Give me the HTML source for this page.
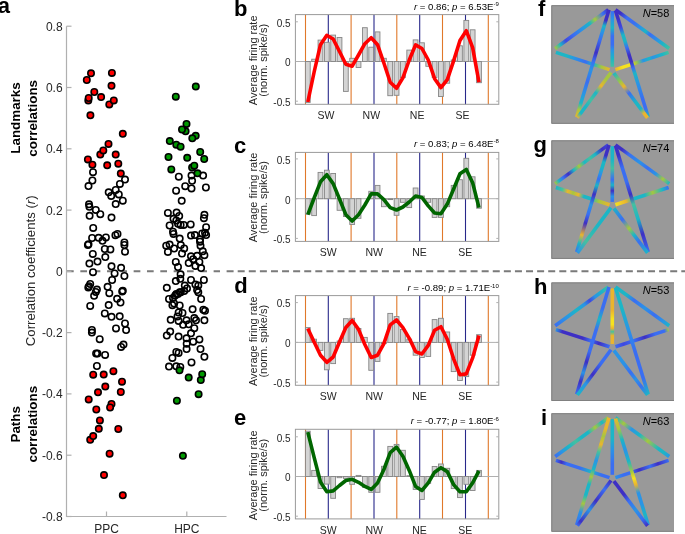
<!DOCTYPE html><html><head><meta charset="utf-8"><style>html,body{margin:0;padding:0;background:#fff;}svg{display:block;will-change:transform;}text{font-family:'Liberation Sans',sans-serif;}</style></head><body>
<svg width="685" height="534" viewBox="0 0 685 534">
<rect width="685" height="534" fill="#fff"/>
<text x="-2.3" y="13.3" style="font-weight:bold;font-size:22px" fill="#000">a</text>
<line x1="66.5" y1="271.2" x2="220" y2="271.2" stroke="#7a7a7a" stroke-width="2" stroke-dasharray="6.7 6.63" stroke-dashoffset="-0.5"/>
<line x1="226.6" y1="271.2" x2="685" y2="271.2" stroke="#7a7a7a" stroke-width="2" stroke-dasharray="7 4.09"/>
<path d="M66.5 26.2 V516.5 H226.5" fill="none" stroke="#b0b0b0" stroke-width="1.2"/>
<line x1="66.5" y1="26.2" x2="71.5" y2="26.2" stroke="#b0b0b0" stroke-width="1.2"/>
<text x="62.6" y="30.6" text-anchor="end" style="font-size:12px" fill="#262626">0.8</text>
<line x1="66.5" y1="87.5" x2="71.5" y2="87.5" stroke="#b0b0b0" stroke-width="1.2"/>
<text x="62.6" y="91.9" text-anchor="end" style="font-size:12px" fill="#262626">0.6</text>
<line x1="66.5" y1="148.8" x2="71.5" y2="148.8" stroke="#b0b0b0" stroke-width="1.2"/>
<text x="62.6" y="153.2" text-anchor="end" style="font-size:12px" fill="#262626">0.4</text>
<line x1="66.5" y1="210.1" x2="71.5" y2="210.1" stroke="#b0b0b0" stroke-width="1.2"/>
<text x="62.6" y="214.5" text-anchor="end" style="font-size:12px" fill="#262626">0.2</text>
<line x1="66.5" y1="271.4" x2="71.5" y2="271.4" stroke="#b0b0b0" stroke-width="1.2"/>
<text x="62.6" y="275.8" text-anchor="end" style="font-size:12px" fill="#262626">0</text>
<line x1="66.5" y1="332.6" x2="71.5" y2="332.6" stroke="#b0b0b0" stroke-width="1.2"/>
<text x="62.6" y="337.0" text-anchor="end" style="font-size:12px" fill="#262626">-0.2</text>
<line x1="66.5" y1="393.9" x2="71.5" y2="393.9" stroke="#b0b0b0" stroke-width="1.2"/>
<text x="62.6" y="398.3" text-anchor="end" style="font-size:12px" fill="#262626">-0.4</text>
<line x1="66.5" y1="455.2" x2="71.5" y2="455.2" stroke="#b0b0b0" stroke-width="1.2"/>
<text x="62.6" y="459.6" text-anchor="end" style="font-size:12px" fill="#262626">-0.6</text>
<line x1="66.5" y1="516.5" x2="71.5" y2="516.5" stroke="#b0b0b0" stroke-width="1.2"/>
<text x="62.6" y="520.9" text-anchor="end" style="font-size:12px" fill="#262626">-0.8</text>
<line x1="106.5" y1="516.5" x2="106.5" y2="511.5" stroke="#b0b0b0" stroke-width="1.2"/>
<text x="106.5" y="533.2" text-anchor="middle" style="font-size:12px" fill="#262626">PPC</text>
<line x1="186.8" y1="516.5" x2="186.8" y2="511.5" stroke="#b0b0b0" stroke-width="1.2"/>
<text x="186.8" y="533.2" text-anchor="middle" style="font-size:12px" fill="#262626">HPC</text>
<text transform="translate(19.7 118) rotate(-90)" text-anchor="middle" style="font-weight:bold;font-size:13.4px" fill="#000">Landmarks</text>
<text transform="translate(36.7 118.3) rotate(-90)" text-anchor="middle" style="font-weight:bold;font-size:13.4px" fill="#000">correlations</text>
<text transform="translate(19.7 424.3) rotate(-90)" text-anchor="middle" style="font-weight:bold;font-size:13.4px" fill="#000">Paths</text>
<text transform="translate(36.7 424.2) rotate(-90)" text-anchor="middle" style="font-weight:bold;font-size:13.4px" fill="#000">correlations</text>
<text transform="translate(35.0 270.8) rotate(-90)" text-anchor="middle" style="font-size:13.2px" fill="#262626">Correlation coefficients (<tspan style="font-style:italic">r</tspan>)</text>
<g fill="#fff"><circle cx="93.0" cy="172.2" r="3.5"/><circle cx="92.4" cy="180.5" r="3.5"/><circle cx="88.5" cy="186.1" r="3.5"/><circle cx="125.0" cy="179.6" r="3.5"/><circle cx="119.9" cy="183.9" r="3.5"/><circle cx="115.7" cy="190.0" r="3.5"/><circle cx="108.7" cy="192.3" r="3.5"/><circle cx="111.2" cy="195.9" r="3.5"/><circle cx="118.8" cy="194.4" r="3.5"/><circle cx="122.8" cy="200.7" r="3.5"/><circle cx="115.7" cy="204.1" r="3.5"/><circle cx="89.0" cy="204.3" r="3.5"/><circle cx="89.4" cy="206.8" r="3.5"/><circle cx="95.8" cy="209.9" r="3.5"/><circle cx="89.6" cy="215.8" r="3.5"/><circle cx="100.3" cy="214.2" r="3.5"/><circle cx="111.5" cy="217.6" r="3.5"/><circle cx="93.2" cy="227.9" r="3.5"/><circle cx="92.1" cy="238.0" r="3.5"/><circle cx="98.6" cy="237.8" r="3.5"/><circle cx="105.9" cy="237.4" r="3.5"/><circle cx="102.5" cy="240.8" r="3.5"/><circle cx="115.4" cy="235.2" r="3.5"/><circle cx="117.5" cy="234.0" r="3.5"/><circle cx="87.9" cy="245.0" r="3.5"/><circle cx="88.5" cy="244.2" r="3.5"/><circle cx="124.4" cy="242.5" r="3.5"/><circle cx="124.4" cy="245.0" r="3.5"/><circle cx="104.8" cy="249.0" r="3.5"/><circle cx="110.4" cy="249.4" r="3.5"/><circle cx="125.0" cy="251.7" r="3.5"/><circle cx="92.8" cy="253.9" r="3.5"/><circle cx="105.3" cy="257.1" r="3.5"/><circle cx="97.5" cy="261.6" r="3.5"/><circle cx="89.4" cy="263.6" r="3.5"/><circle cx="111.5" cy="266.3" r="3.5"/><circle cx="121.1" cy="267.8" r="3.5"/><circle cx="93.0" cy="272.2" r="3.5"/><circle cx="114.6" cy="273.4" r="3.5"/><circle cx="124.4" cy="276.0" r="3.5"/><circle cx="112.1" cy="280.0" r="3.5"/><circle cx="90.2" cy="284.0" r="3.5"/><circle cx="89.0" cy="286.2" r="3.5"/><circle cx="88.3" cy="287.6" r="3.5"/><circle cx="96.9" cy="289.6" r="3.5"/><circle cx="95.8" cy="291.9" r="3.5"/><circle cx="94.1" cy="295.8" r="3.5"/><circle cx="107.6" cy="286.8" r="3.5"/><circle cx="109.3" cy="293.2" r="3.5"/><circle cx="122.8" cy="290.7" r="3.5"/><circle cx="122.2" cy="291.6" r="3.5"/><circle cx="117.1" cy="298.8" r="3.5"/><circle cx="120.5" cy="302.5" r="3.5"/><circle cx="90.2" cy="305.9" r="3.5"/><circle cx="108.7" cy="305.1" r="3.5"/><circle cx="104.8" cy="313.4" r="3.5"/><circle cx="111.5" cy="316.8" r="3.5"/><circle cx="119.7" cy="316.3" r="3.5"/><circle cx="125.0" cy="323.5" r="3.5"/><circle cx="116.0" cy="328.4" r="3.5"/><circle cx="126.1" cy="330.1" r="3.5"/><circle cx="91.9" cy="330.0" r="3.5"/><circle cx="91.9" cy="332.6" r="3.5"/><circle cx="99.7" cy="339.2" r="3.5"/><circle cx="121.1" cy="346.9" r="3.5"/><circle cx="123.5" cy="344.6" r="3.5"/><circle cx="96.1" cy="353.4" r="3.5"/><circle cx="97.5" cy="353.6" r="3.5"/><circle cx="105.1" cy="354.9" r="3.5"/><circle cx="96.9" cy="366.0" r="3.5"/></g>
<g fill="none" stroke="#000" stroke-width="1.6"><circle cx="93.0" cy="172.2" r="3.2"/><circle cx="92.4" cy="180.5" r="3.2"/><circle cx="88.5" cy="186.1" r="3.2"/><circle cx="125.0" cy="179.6" r="3.2"/><circle cx="119.9" cy="183.9" r="3.2"/><circle cx="115.7" cy="190.0" r="3.2"/><circle cx="108.7" cy="192.3" r="3.2"/><circle cx="111.2" cy="195.9" r="3.2"/><circle cx="118.8" cy="194.4" r="3.2"/><circle cx="122.8" cy="200.7" r="3.2"/><circle cx="115.7" cy="204.1" r="3.2"/><circle cx="89.0" cy="204.3" r="3.2"/><circle cx="89.4" cy="206.8" r="3.2"/><circle cx="95.8" cy="209.9" r="3.2"/><circle cx="89.6" cy="215.8" r="3.2"/><circle cx="100.3" cy="214.2" r="3.2"/><circle cx="111.5" cy="217.6" r="3.2"/><circle cx="93.2" cy="227.9" r="3.2"/><circle cx="92.1" cy="238.0" r="3.2"/><circle cx="98.6" cy="237.8" r="3.2"/><circle cx="105.9" cy="237.4" r="3.2"/><circle cx="102.5" cy="240.8" r="3.2"/><circle cx="115.4" cy="235.2" r="3.2"/><circle cx="117.5" cy="234.0" r="3.2"/><circle cx="87.9" cy="245.0" r="3.2"/><circle cx="88.5" cy="244.2" r="3.2"/><circle cx="124.4" cy="242.5" r="3.2"/><circle cx="124.4" cy="245.0" r="3.2"/><circle cx="104.8" cy="249.0" r="3.2"/><circle cx="110.4" cy="249.4" r="3.2"/><circle cx="125.0" cy="251.7" r="3.2"/><circle cx="92.8" cy="253.9" r="3.2"/><circle cx="105.3" cy="257.1" r="3.2"/><circle cx="97.5" cy="261.6" r="3.2"/><circle cx="89.4" cy="263.6" r="3.2"/><circle cx="111.5" cy="266.3" r="3.2"/><circle cx="121.1" cy="267.8" r="3.2"/><circle cx="93.0" cy="272.2" r="3.2"/><circle cx="114.6" cy="273.4" r="3.2"/><circle cx="124.4" cy="276.0" r="3.2"/><circle cx="112.1" cy="280.0" r="3.2"/><circle cx="90.2" cy="284.0" r="3.2"/><circle cx="89.0" cy="286.2" r="3.2"/><circle cx="88.3" cy="287.6" r="3.2"/><circle cx="96.9" cy="289.6" r="3.2"/><circle cx="95.8" cy="291.9" r="3.2"/><circle cx="94.1" cy="295.8" r="3.2"/><circle cx="107.6" cy="286.8" r="3.2"/><circle cx="109.3" cy="293.2" r="3.2"/><circle cx="122.8" cy="290.7" r="3.2"/><circle cx="122.2" cy="291.6" r="3.2"/><circle cx="117.1" cy="298.8" r="3.2"/><circle cx="120.5" cy="302.5" r="3.2"/><circle cx="90.2" cy="305.9" r="3.2"/><circle cx="108.7" cy="305.1" r="3.2"/><circle cx="104.8" cy="313.4" r="3.2"/><circle cx="111.5" cy="316.8" r="3.2"/><circle cx="119.7" cy="316.3" r="3.2"/><circle cx="125.0" cy="323.5" r="3.2"/><circle cx="116.0" cy="328.4" r="3.2"/><circle cx="126.1" cy="330.1" r="3.2"/><circle cx="91.9" cy="330.0" r="3.2"/><circle cx="91.9" cy="332.6" r="3.2"/><circle cx="99.7" cy="339.2" r="3.2"/><circle cx="121.1" cy="346.9" r="3.2"/><circle cx="123.5" cy="344.6" r="3.2"/><circle cx="96.1" cy="353.4" r="3.2"/><circle cx="97.5" cy="353.6" r="3.2"/><circle cx="105.1" cy="354.9" r="3.2"/><circle cx="96.9" cy="366.0" r="3.2"/></g>
<g fill="#fff"><circle cx="178.8" cy="176.7" r="3.5"/><circle cx="191.5" cy="175.6" r="3.5"/><circle cx="203.1" cy="175.6" r="3.5"/><circle cx="192.1" cy="180.8" r="3.5"/><circle cx="185.2" cy="186.2" r="3.5"/><circle cx="205.9" cy="187.5" r="3.5"/><circle cx="191.5" cy="188.4" r="3.5"/><circle cx="176.1" cy="190.7" r="3.5"/><circle cx="181.7" cy="200.8" r="3.5"/><circle cx="167.9" cy="212.9" r="3.5"/><circle cx="176.6" cy="212.6" r="3.5"/><circle cx="179.2" cy="216.0" r="3.5"/><circle cx="173.5" cy="218.8" r="3.5"/><circle cx="176.3" cy="220.4" r="3.5"/><circle cx="204.4" cy="214.8" r="3.5"/><circle cx="203.9" cy="218.2" r="3.5"/><circle cx="169.6" cy="225.5" r="3.5"/><circle cx="178.0" cy="223.8" r="3.5"/><circle cx="180.6" cy="224.9" r="3.5"/><circle cx="183.7" cy="224.9" r="3.5"/><circle cx="190.7" cy="224.4" r="3.5"/><circle cx="206.1" cy="227.2" r="3.5"/><circle cx="173.0" cy="231.7" r="3.5"/><circle cx="173.5" cy="233.9" r="3.5"/><circle cx="191.0" cy="235.6" r="3.5"/><circle cx="194.9" cy="235.1" r="3.5"/><circle cx="202.2" cy="233.4" r="3.5"/><circle cx="205.0" cy="232.8" r="3.5"/><circle cx="206.1" cy="235.1" r="3.5"/><circle cx="179.7" cy="238.6" r="3.5"/><circle cx="200.0" cy="239.5" r="3.5"/><circle cx="166.2" cy="245.7" r="3.5"/><circle cx="169.6" cy="244.6" r="3.5"/><circle cx="167.9" cy="251.9" r="3.5"/><circle cx="174.1" cy="248.5" r="3.5"/><circle cx="180.8" cy="245.1" r="3.5"/><circle cx="184.2" cy="248.5" r="3.5"/><circle cx="182.0" cy="253.5" r="3.5"/><circle cx="200.0" cy="241.7" r="3.5"/><circle cx="200.5" cy="245.7" r="3.5"/><circle cx="202.8" cy="251.3" r="3.5"/><circle cx="204.4" cy="255.2" r="3.5"/><circle cx="191.0" cy="256.3" r="3.5"/><circle cx="197.1" cy="255.8" r="3.5"/><circle cx="193.2" cy="259.2" r="3.5"/><circle cx="199.4" cy="262.0" r="3.5"/><circle cx="188.7" cy="263.1" r="3.5"/><circle cx="195.4" cy="265.9" r="3.5"/><circle cx="201.1" cy="268.1" r="3.5"/><circle cx="175.8" cy="262.0" r="3.5"/><circle cx="178.0" cy="267.0" r="3.5"/><circle cx="180.6" cy="274.3" r="3.5"/><circle cx="180.3" cy="278.8" r="3.5"/><circle cx="175.8" cy="281.1" r="3.5"/><circle cx="191.0" cy="280.0" r="3.5"/><circle cx="203.9" cy="280.0" r="3.5"/><circle cx="166.8" cy="287.8" r="3.5"/><circle cx="195.4" cy="284.4" r="3.5"/><circle cx="198.3" cy="285.6" r="3.5"/><circle cx="184.8" cy="285.6" r="3.5"/><circle cx="187.0" cy="288.4" r="3.5"/><circle cx="197.1" cy="290.1" r="3.5"/><circle cx="179.7" cy="292.3" r="3.5"/><circle cx="176.3" cy="294.0" r="3.5"/><circle cx="175.2" cy="295.6" r="3.5"/><circle cx="178.0" cy="293.9" r="3.5"/><circle cx="180.8" cy="292.2" r="3.5"/><circle cx="184.2" cy="291.1" r="3.5"/><circle cx="169.0" cy="299.0" r="3.5"/><circle cx="173.0" cy="297.9" r="3.5"/><circle cx="198.3" cy="292.2" r="3.5"/><circle cx="201.1" cy="299.0" r="3.5"/><circle cx="172.4" cy="305.2" r="3.5"/><circle cx="174.1" cy="303.5" r="3.5"/><circle cx="179.7" cy="305.5" r="3.5"/><circle cx="192.6" cy="309.3" r="3.5"/><circle cx="203.3" cy="309.7" r="3.5"/><circle cx="205.0" cy="310.8" r="3.5"/><circle cx="178.6" cy="312.5" r="3.5"/><circle cx="182.5" cy="313.0" r="3.5"/><circle cx="177.5" cy="316.4" r="3.5"/><circle cx="170.7" cy="319.8" r="3.5"/><circle cx="178.6" cy="320.9" r="3.5"/><circle cx="186.5" cy="320.3" r="3.5"/><circle cx="194.3" cy="318.1" r="3.5"/><circle cx="196.0" cy="320.3" r="3.5"/><circle cx="204.4" cy="320.3" r="3.5"/><circle cx="183.1" cy="324.8" r="3.5"/><circle cx="188.7" cy="324.3" r="3.5"/><circle cx="194.3" cy="328.2" r="3.5"/><circle cx="191.0" cy="333.3" r="3.5"/><circle cx="170.2" cy="331.6" r="3.5"/><circle cx="166.8" cy="335.5" r="3.5"/><circle cx="178.6" cy="336.6" r="3.5"/><circle cx="186.5" cy="338.3" r="3.5"/><circle cx="199.4" cy="339.4" r="3.5"/><circle cx="193.2" cy="341.7" r="3.5"/><circle cx="186.7" cy="343.7" r="3.5"/><circle cx="186.6" cy="349.0" r="3.5"/><circle cx="200.5" cy="349.0" r="3.5"/><circle cx="176.3" cy="352.0" r="3.5"/><circle cx="178.6" cy="352.9" r="3.5"/><circle cx="172.4" cy="357.9" r="3.5"/><circle cx="204.4" cy="356.8" r="3.5"/><circle cx="191.5" cy="362.4" r="3.5"/><circle cx="169.0" cy="366.6" r="3.5"/><circle cx="176.3" cy="366.3" r="3.5"/><circle cx="180.3" cy="366.9" r="3.5"/></g>
<g fill="none" stroke="#000" stroke-width="1.6"><circle cx="178.8" cy="176.7" r="3.2"/><circle cx="191.5" cy="175.6" r="3.2"/><circle cx="203.1" cy="175.6" r="3.2"/><circle cx="192.1" cy="180.8" r="3.2"/><circle cx="185.2" cy="186.2" r="3.2"/><circle cx="205.9" cy="187.5" r="3.2"/><circle cx="191.5" cy="188.4" r="3.2"/><circle cx="176.1" cy="190.7" r="3.2"/><circle cx="181.7" cy="200.8" r="3.2"/><circle cx="167.9" cy="212.9" r="3.2"/><circle cx="176.6" cy="212.6" r="3.2"/><circle cx="179.2" cy="216.0" r="3.2"/><circle cx="173.5" cy="218.8" r="3.2"/><circle cx="176.3" cy="220.4" r="3.2"/><circle cx="204.4" cy="214.8" r="3.2"/><circle cx="203.9" cy="218.2" r="3.2"/><circle cx="169.6" cy="225.5" r="3.2"/><circle cx="178.0" cy="223.8" r="3.2"/><circle cx="180.6" cy="224.9" r="3.2"/><circle cx="183.7" cy="224.9" r="3.2"/><circle cx="190.7" cy="224.4" r="3.2"/><circle cx="206.1" cy="227.2" r="3.2"/><circle cx="173.0" cy="231.7" r="3.2"/><circle cx="173.5" cy="233.9" r="3.2"/><circle cx="191.0" cy="235.6" r="3.2"/><circle cx="194.9" cy="235.1" r="3.2"/><circle cx="202.2" cy="233.4" r="3.2"/><circle cx="205.0" cy="232.8" r="3.2"/><circle cx="206.1" cy="235.1" r="3.2"/><circle cx="179.7" cy="238.6" r="3.2"/><circle cx="200.0" cy="239.5" r="3.2"/><circle cx="166.2" cy="245.7" r="3.2"/><circle cx="169.6" cy="244.6" r="3.2"/><circle cx="167.9" cy="251.9" r="3.2"/><circle cx="174.1" cy="248.5" r="3.2"/><circle cx="180.8" cy="245.1" r="3.2"/><circle cx="184.2" cy="248.5" r="3.2"/><circle cx="182.0" cy="253.5" r="3.2"/><circle cx="200.0" cy="241.7" r="3.2"/><circle cx="200.5" cy="245.7" r="3.2"/><circle cx="202.8" cy="251.3" r="3.2"/><circle cx="204.4" cy="255.2" r="3.2"/><circle cx="191.0" cy="256.3" r="3.2"/><circle cx="197.1" cy="255.8" r="3.2"/><circle cx="193.2" cy="259.2" r="3.2"/><circle cx="199.4" cy="262.0" r="3.2"/><circle cx="188.7" cy="263.1" r="3.2"/><circle cx="195.4" cy="265.9" r="3.2"/><circle cx="201.1" cy="268.1" r="3.2"/><circle cx="175.8" cy="262.0" r="3.2"/><circle cx="178.0" cy="267.0" r="3.2"/><circle cx="180.6" cy="274.3" r="3.2"/><circle cx="180.3" cy="278.8" r="3.2"/><circle cx="175.8" cy="281.1" r="3.2"/><circle cx="191.0" cy="280.0" r="3.2"/><circle cx="203.9" cy="280.0" r="3.2"/><circle cx="166.8" cy="287.8" r="3.2"/><circle cx="195.4" cy="284.4" r="3.2"/><circle cx="198.3" cy="285.6" r="3.2"/><circle cx="184.8" cy="285.6" r="3.2"/><circle cx="187.0" cy="288.4" r="3.2"/><circle cx="197.1" cy="290.1" r="3.2"/><circle cx="179.7" cy="292.3" r="3.2"/><circle cx="176.3" cy="294.0" r="3.2"/><circle cx="175.2" cy="295.6" r="3.2"/><circle cx="178.0" cy="293.9" r="3.2"/><circle cx="180.8" cy="292.2" r="3.2"/><circle cx="184.2" cy="291.1" r="3.2"/><circle cx="169.0" cy="299.0" r="3.2"/><circle cx="173.0" cy="297.9" r="3.2"/><circle cx="198.3" cy="292.2" r="3.2"/><circle cx="201.1" cy="299.0" r="3.2"/><circle cx="172.4" cy="305.2" r="3.2"/><circle cx="174.1" cy="303.5" r="3.2"/><circle cx="179.7" cy="305.5" r="3.2"/><circle cx="192.6" cy="309.3" r="3.2"/><circle cx="203.3" cy="309.7" r="3.2"/><circle cx="205.0" cy="310.8" r="3.2"/><circle cx="178.6" cy="312.5" r="3.2"/><circle cx="182.5" cy="313.0" r="3.2"/><circle cx="177.5" cy="316.4" r="3.2"/><circle cx="170.7" cy="319.8" r="3.2"/><circle cx="178.6" cy="320.9" r="3.2"/><circle cx="186.5" cy="320.3" r="3.2"/><circle cx="194.3" cy="318.1" r="3.2"/><circle cx="196.0" cy="320.3" r="3.2"/><circle cx="204.4" cy="320.3" r="3.2"/><circle cx="183.1" cy="324.8" r="3.2"/><circle cx="188.7" cy="324.3" r="3.2"/><circle cx="194.3" cy="328.2" r="3.2"/><circle cx="191.0" cy="333.3" r="3.2"/><circle cx="170.2" cy="331.6" r="3.2"/><circle cx="166.8" cy="335.5" r="3.2"/><circle cx="178.6" cy="336.6" r="3.2"/><circle cx="186.5" cy="338.3" r="3.2"/><circle cx="199.4" cy="339.4" r="3.2"/><circle cx="193.2" cy="341.7" r="3.2"/><circle cx="186.7" cy="343.7" r="3.2"/><circle cx="186.6" cy="349.0" r="3.2"/><circle cx="200.5" cy="349.0" r="3.2"/><circle cx="176.3" cy="352.0" r="3.2"/><circle cx="178.6" cy="352.9" r="3.2"/><circle cx="172.4" cy="357.9" r="3.2"/><circle cx="204.4" cy="356.8" r="3.2"/><circle cx="191.5" cy="362.4" r="3.2"/><circle cx="169.0" cy="366.6" r="3.2"/><circle cx="176.3" cy="366.3" r="3.2"/><circle cx="180.3" cy="366.9" r="3.2"/></g>
<g fill="#ff0000" stroke="#000" stroke-width="1.6"><circle cx="91.0" cy="73.3" r="3.2"/><circle cx="86.8" cy="80.0" r="3.2"/><circle cx="111.9" cy="72.9" r="3.2"/><circle cx="111.5" cy="85.8" r="3.2"/><circle cx="94.3" cy="92.0" r="3.2"/><circle cx="88.3" cy="100.4" r="3.2"/><circle cx="88.7" cy="98.0" r="3.2"/><circle cx="101.1" cy="97.1" r="3.2"/><circle cx="109.3" cy="104.4" r="3.2"/><circle cx="113.8" cy="100.4" r="3.2"/><circle cx="90.4" cy="115.3" r="3.2"/><circle cx="122.8" cy="133.8" r="3.2"/><circle cx="108.5" cy="143.9" r="3.2"/><circle cx="100.3" cy="154.6" r="3.2"/><circle cx="103.3" cy="150.4" r="3.2"/><circle cx="115.7" cy="154.6" r="3.2"/><circle cx="87.9" cy="159.4" r="3.2"/><circle cx="92.4" cy="164.7" r="3.2"/><circle cx="107.2" cy="165.3" r="3.2"/><circle cx="118.3" cy="163.7" r="3.2"/><circle cx="120.8" cy="173.6" r="3.2"/><circle cx="113.4" cy="371.2" r="3.2"/><circle cx="93.2" cy="374.7" r="3.2"/><circle cx="103.7" cy="374.6" r="3.2"/><circle cx="122.0" cy="381.7" r="3.2"/><circle cx="105.3" cy="386.6" r="3.2"/><circle cx="98.0" cy="392.3" r="3.2"/><circle cx="120.8" cy="392.0" r="3.2"/><circle cx="88.7" cy="399.4" r="3.2"/><circle cx="111.5" cy="403.9" r="3.2"/><circle cx="110.1" cy="407.5" r="3.2"/><circle cx="96.3" cy="409.5" r="3.2"/><circle cx="99.9" cy="420.4" r="3.2"/><circle cx="98.8" cy="428.8" r="3.2"/><circle cx="118.3" cy="429.0" r="3.2"/><circle cx="90.2" cy="439.8" r="3.2"/><circle cx="93.2" cy="436.1" r="3.2"/><circle cx="109.6" cy="453.7" r="3.2"/><circle cx="104.0" cy="475.1" r="3.2"/><circle cx="122.8" cy="495.3" r="3.2"/></g>
<g fill="#009900" stroke="#000" stroke-width="1.6"><circle cx="195.8" cy="86.6" r="3.2"/><circle cx="175.8" cy="96.7" r="3.2"/><circle cx="185.6" cy="131.3" r="3.2"/><circle cx="186.5" cy="123.9" r="3.2"/><circle cx="182.0" cy="129.5" r="3.2"/><circle cx="195.7" cy="135.8" r="3.2"/><circle cx="192.3" cy="138.3" r="3.2"/><circle cx="169.8" cy="141.1" r="3.2"/><circle cx="176.3" cy="144.7" r="3.2"/><circle cx="180.6" cy="146.7" r="3.2"/><circle cx="200.2" cy="152.0" r="3.2"/><circle cx="204.2" cy="159.0" r="3.2"/><circle cx="168.5" cy="157.0" r="3.2"/><circle cx="187.2" cy="157.8" r="3.2"/><circle cx="192.1" cy="167.5" r="3.2"/><circle cx="194.3" cy="165.7" r="3.2"/><circle cx="171.3" cy="169.4" r="3.2"/><circle cx="197.5" cy="173.3" r="3.2"/><circle cx="179.5" cy="370.3" r="3.2"/><circle cx="188.7" cy="377.6" r="3.2"/><circle cx="200.8" cy="380.1" r="3.2"/><circle cx="202.2" cy="374.2" r="3.2"/><circle cx="198.6" cy="394.2" r="3.2"/><circle cx="176.9" cy="400.7" r="3.2"/><circle cx="182.9" cy="455.8" r="3.2"/></g>
<text x="234.1" y="16.3" style="font-weight:bold;font-size:22px" fill="#000">b</text>
<line x1="305.5" y1="14.6" x2="305.5" y2="104.3" stroke="#e0782a" stroke-width="1.1"/>
<line x1="351.1" y1="14.6" x2="351.1" y2="104.3" stroke="#e0782a" stroke-width="1.1"/>
<line x1="396.8" y1="14.6" x2="396.8" y2="104.3" stroke="#e0782a" stroke-width="1.1"/>
<line x1="442.5" y1="14.6" x2="442.5" y2="104.3" stroke="#e0782a" stroke-width="1.1"/>
<line x1="488.3" y1="14.6" x2="488.3" y2="104.3" stroke="#e0782a" stroke-width="1.1"/>
<line x1="328.3" y1="14.6" x2="328.3" y2="104.3" stroke="#28288a" stroke-width="1.1"/>
<line x1="374.0" y1="14.6" x2="374.0" y2="104.3" stroke="#28288a" stroke-width="1.1"/>
<line x1="419.7" y1="14.6" x2="419.7" y2="104.3" stroke="#28288a" stroke-width="1.1"/>
<line x1="465.5" y1="14.6" x2="465.5" y2="104.3" stroke="#28288a" stroke-width="1.1"/>
<line x1="295.4" y1="61.5" x2="498.8" y2="61.5" stroke="#b0b0b0" stroke-width="1"/>
<rect x="305.40" y="61.50" width="4.8" height="40.90" fill="#d4d4d4" stroke="#858585" stroke-width="0.9"/>
<rect x="311.74" y="59.20" width="4.8" height="2.30" fill="#d4d4d4" stroke="#858585" stroke-width="0.9"/>
<rect x="318.08" y="40.10" width="4.8" height="21.40" fill="#d4d4d4" stroke="#858585" stroke-width="0.9"/>
<rect x="324.42" y="42.30" width="4.8" height="19.20" fill="#d4d4d4" stroke="#858585" stroke-width="0.9"/>
<rect x="330.76" y="35.10" width="4.8" height="26.40" fill="#d4d4d4" stroke="#858585" stroke-width="0.9"/>
<rect x="337.10" y="37.50" width="4.8" height="24.00" fill="#d4d4d4" stroke="#858585" stroke-width="0.9"/>
<rect x="343.44" y="61.50" width="4.8" height="29.90" fill="#d4d4d4" stroke="#858585" stroke-width="0.9"/>
<rect x="349.78" y="58.30" width="4.8" height="3.20" fill="#d4d4d4" stroke="#858585" stroke-width="0.9"/>
<rect x="356.12" y="61.50" width="4.8" height="6.00" fill="#d4d4d4" stroke="#858585" stroke-width="0.9"/>
<rect x="362.46" y="27.70" width="4.8" height="33.80" fill="#d4d4d4" stroke="#858585" stroke-width="0.9"/>
<rect x="368.80" y="47.20" width="4.8" height="14.30" fill="#d4d4d4" stroke="#858585" stroke-width="0.9"/>
<rect x="375.14" y="31.90" width="4.8" height="29.60" fill="#d4d4d4" stroke="#858585" stroke-width="0.9"/>
<rect x="381.48" y="58.30" width="4.8" height="3.20" fill="#d4d4d4" stroke="#858585" stroke-width="0.9"/>
<rect x="387.82" y="61.50" width="4.8" height="34.20" fill="#d4d4d4" stroke="#858585" stroke-width="0.9"/>
<rect x="394.16" y="61.50" width="4.8" height="33.80" fill="#d4d4d4" stroke="#858585" stroke-width="0.9"/>
<rect x="400.50" y="61.50" width="4.8" height="16.10" fill="#d4d4d4" stroke="#858585" stroke-width="0.9"/>
<rect x="406.84" y="50.10" width="4.8" height="11.40" fill="#d4d4d4" stroke="#858585" stroke-width="0.9"/>
<rect x="413.18" y="39.90" width="4.8" height="21.60" fill="#d4d4d4" stroke="#858585" stroke-width="0.9"/>
<rect x="419.52" y="42.80" width="4.8" height="18.70" fill="#d4d4d4" stroke="#858585" stroke-width="0.9"/>
<rect x="425.86" y="61.50" width="4.8" height="4.80" fill="#d4d4d4" stroke="#858585" stroke-width="0.9"/>
<rect x="432.20" y="61.50" width="4.8" height="16.00" fill="#d4d4d4" stroke="#858585" stroke-width="0.9"/>
<rect x="438.54" y="61.50" width="4.8" height="35.00" fill="#d4d4d4" stroke="#858585" stroke-width="0.9"/>
<rect x="444.88" y="61.50" width="4.8" height="21.70" fill="#d4d4d4" stroke="#858585" stroke-width="0.9"/>
<rect x="451.22" y="60.00" width="4.8" height="1.50" fill="#d4d4d4" stroke="#858585" stroke-width="0.9"/>
<rect x="457.56" y="45.80" width="4.8" height="15.70" fill="#d4d4d4" stroke="#858585" stroke-width="0.9"/>
<rect x="463.90" y="20.40" width="4.8" height="41.10" fill="#d4d4d4" stroke="#858585" stroke-width="0.9"/>
<rect x="470.24" y="29.80" width="4.8" height="31.70" fill="#d4d4d4" stroke="#858585" stroke-width="0.9"/>
<rect x="476.58" y="61.50" width="4.8" height="21.20" fill="#d4d4d4" stroke="#858585" stroke-width="0.9"/>
<rect x="295.4" y="14.6" width="203.4" height="89.7" fill="none" stroke="#9a9a9a" stroke-width="1"/>
<line x1="295.4" y1="21.8" x2="297.9" y2="21.8" stroke="#b0b0b0" stroke-width="1"/>
<line x1="498.8" y1="21.8" x2="496.3" y2="21.8" stroke="#b0b0b0" stroke-width="1"/>
<text x="290.6" y="26.6" text-anchor="end" style="font-size:10px" fill="#262626">0.5</text>
<line x1="295.4" y1="61.5" x2="297.9" y2="61.5" stroke="#b0b0b0" stroke-width="1"/>
<line x1="498.8" y1="61.5" x2="496.3" y2="61.5" stroke="#b0b0b0" stroke-width="1"/>
<text x="290.6" y="66.3" text-anchor="end" style="font-size:10px" fill="#262626">0</text>
<line x1="295.4" y1="101.2" x2="297.9" y2="101.2" stroke="#b0b0b0" stroke-width="1"/>
<line x1="498.8" y1="101.2" x2="496.3" y2="101.2" stroke="#b0b0b0" stroke-width="1"/>
<text x="290.6" y="106.0" text-anchor="end" style="font-size:10px" fill="#262626">-0.5</text>
<polyline points="307.80,102.00 314.14,72.00 320.48,44.70 326.82,35.30 333.16,39.00 339.50,51.50 345.84,64.30 352.18,66.20 358.52,55.00 364.86,43.70 371.20,37.70 377.54,44.70 383.88,63.00 390.22,82.20 396.56,88.30 402.90,77.80 409.24,60.00 415.58,44.90 421.92,48.50 428.26,60.00 434.60,78.70 440.94,87.60 447.28,79.60 453.62,60.90 459.96,40.50 466.30,30.70 472.64,47.60 478.98,82.30" fill="none" stroke="#ff0000" stroke-width="3.6" stroke-linejoin="round" stroke-linecap="butt"/>
<text x="498.8" y="9.8" text-anchor="end" style="font-size:9.6px" fill="#000"><tspan style="font-style:italic">r</tspan> = 0.86; <tspan style="font-style:italic">p</tspan> = 6.53E<tspan dy="-3.6" style="font-size:6px">-9</tspan></text>
<text x="325.9" y="118.9" text-anchor="middle" style="font-size:10.5px" fill="#262626">SW</text>
<text x="371.3" y="118.9" text-anchor="middle" style="font-size:10.5px" fill="#262626">NW</text>
<text x="417.1" y="118.9" text-anchor="middle" style="font-size:10.5px" fill="#262626">NE</text>
<text x="462.6" y="118.9" text-anchor="middle" style="font-size:10.5px" fill="#262626">SE</text>
<text transform="translate(256.8 60.3) rotate(-90)" text-anchor="middle" style="font-size:11px" fill="#262626">Average firing rate</text>
<text transform="translate(267.1 60.3) rotate(-90)" text-anchor="middle" style="font-size:11px" fill="#262626">(norm. spike/s)</text>
<text x="234.1" y="152.8" style="font-weight:bold;font-size:22px" fill="#000">c</text>
<line x1="305.5" y1="152.4" x2="305.5" y2="241.4" stroke="#e0782a" stroke-width="1.1"/>
<line x1="351.1" y1="152.4" x2="351.1" y2="241.4" stroke="#e0782a" stroke-width="1.1"/>
<line x1="396.8" y1="152.4" x2="396.8" y2="241.4" stroke="#e0782a" stroke-width="1.1"/>
<line x1="442.5" y1="152.4" x2="442.5" y2="241.4" stroke="#e0782a" stroke-width="1.1"/>
<line x1="488.3" y1="152.4" x2="488.3" y2="241.4" stroke="#e0782a" stroke-width="1.1"/>
<line x1="328.3" y1="152.4" x2="328.3" y2="241.4" stroke="#28288a" stroke-width="1.1"/>
<line x1="374.0" y1="152.4" x2="374.0" y2="241.4" stroke="#28288a" stroke-width="1.1"/>
<line x1="419.7" y1="152.4" x2="419.7" y2="241.4" stroke="#28288a" stroke-width="1.1"/>
<line x1="465.5" y1="152.4" x2="465.5" y2="241.4" stroke="#28288a" stroke-width="1.1"/>
<line x1="295.4" y1="198.7" x2="498.8" y2="198.7" stroke="#b0b0b0" stroke-width="1"/>
<rect x="305.40" y="198.70" width="4.8" height="15.50" fill="#d4d4d4" stroke="#858585" stroke-width="0.9"/>
<rect x="311.74" y="198.70" width="4.8" height="16.90" fill="#d4d4d4" stroke="#858585" stroke-width="0.9"/>
<rect x="318.08" y="172.40" width="4.8" height="26.30" fill="#d4d4d4" stroke="#858585" stroke-width="0.9"/>
<rect x="324.42" y="170.20" width="4.8" height="28.50" fill="#d4d4d4" stroke="#858585" stroke-width="0.9"/>
<rect x="330.76" y="173.50" width="4.8" height="25.20" fill="#d4d4d4" stroke="#858585" stroke-width="0.9"/>
<rect x="337.10" y="198.70" width="4.8" height="11.60" fill="#d4d4d4" stroke="#858585" stroke-width="0.9"/>
<rect x="343.44" y="198.70" width="4.8" height="17.80" fill="#d4d4d4" stroke="#858585" stroke-width="0.9"/>
<rect x="349.78" y="198.70" width="4.8" height="25.80" fill="#d4d4d4" stroke="#858585" stroke-width="0.9"/>
<rect x="356.12" y="198.70" width="4.8" height="19.60" fill="#d4d4d4" stroke="#858585" stroke-width="0.9"/>
<rect x="368.80" y="191.30" width="4.8" height="7.40" fill="#d4d4d4" stroke="#858585" stroke-width="0.9"/>
<rect x="375.14" y="185.40" width="4.8" height="13.30" fill="#d4d4d4" stroke="#858585" stroke-width="0.9"/>
<rect x="381.48" y="198.70" width="4.8" height="8.00" fill="#d4d4d4" stroke="#858585" stroke-width="0.9"/>
<rect x="387.82" y="198.70" width="4.8" height="0.90" fill="#d4d4d4" stroke="#858585" stroke-width="0.9"/>
<rect x="394.16" y="198.70" width="4.8" height="16.60" fill="#d4d4d4" stroke="#858585" stroke-width="0.9"/>
<rect x="400.50" y="198.70" width="4.8" height="3.60" fill="#d4d4d4" stroke="#858585" stroke-width="0.9"/>
<rect x="406.84" y="198.70" width="4.8" height="8.90" fill="#d4d4d4" stroke="#858585" stroke-width="0.9"/>
<rect x="413.18" y="188.00" width="4.8" height="10.70" fill="#d4d4d4" stroke="#858585" stroke-width="0.9"/>
<rect x="419.52" y="196.00" width="4.8" height="2.70" fill="#d4d4d4" stroke="#858585" stroke-width="0.9"/>
<rect x="425.86" y="198.70" width="4.8" height="3.60" fill="#d4d4d4" stroke="#858585" stroke-width="0.9"/>
<rect x="432.20" y="198.70" width="4.8" height="18.70" fill="#d4d4d4" stroke="#858585" stroke-width="0.9"/>
<rect x="438.54" y="198.70" width="4.8" height="18.70" fill="#d4d4d4" stroke="#858585" stroke-width="0.9"/>
<rect x="444.88" y="198.70" width="4.8" height="8.00" fill="#d4d4d4" stroke="#858585" stroke-width="0.9"/>
<rect x="451.22" y="185.40" width="4.8" height="13.30" fill="#d4d4d4" stroke="#858585" stroke-width="0.9"/>
<rect x="457.56" y="179.70" width="4.8" height="19.00" fill="#d4d4d4" stroke="#858585" stroke-width="0.9"/>
<rect x="463.90" y="158.30" width="4.8" height="40.40" fill="#d4d4d4" stroke="#858585" stroke-width="0.9"/>
<rect x="470.24" y="176.80" width="4.8" height="21.90" fill="#d4d4d4" stroke="#858585" stroke-width="0.9"/>
<rect x="476.58" y="198.70" width="4.8" height="9.50" fill="#d4d4d4" stroke="#858585" stroke-width="0.9"/>
<rect x="295.4" y="152.4" width="203.4" height="89.0" fill="none" stroke="#9a9a9a" stroke-width="1"/>
<line x1="295.4" y1="158.9" x2="297.9" y2="158.9" stroke="#b0b0b0" stroke-width="1"/>
<line x1="498.8" y1="158.9" x2="496.3" y2="158.9" stroke="#b0b0b0" stroke-width="1"/>
<text x="290.6" y="163.8" text-anchor="end" style="font-size:10px" fill="#262626">0.5</text>
<line x1="295.4" y1="198.7" x2="297.9" y2="198.7" stroke="#b0b0b0" stroke-width="1"/>
<line x1="498.8" y1="198.7" x2="496.3" y2="198.7" stroke="#b0b0b0" stroke-width="1"/>
<text x="290.6" y="203.5" text-anchor="end" style="font-size:10px" fill="#262626">0</text>
<line x1="295.4" y1="238.4" x2="297.9" y2="238.4" stroke="#b0b0b0" stroke-width="1"/>
<line x1="498.8" y1="238.4" x2="496.3" y2="238.4" stroke="#b0b0b0" stroke-width="1"/>
<text x="290.6" y="243.2" text-anchor="end" style="font-size:10px" fill="#262626">-0.5</text>
<polyline points="307.80,214.70 314.14,198.00 320.48,181.80 326.82,174.70 333.16,183.60 339.50,199.00 345.84,214.70 352.18,221.00 358.52,214.80 364.86,205.00 371.20,193.90 377.54,193.90 383.88,199.60 390.22,207.60 396.56,210.00 402.90,207.00 409.24,202.00 415.58,196.00 421.92,197.50 428.26,205.90 434.60,213.00 440.94,213.70 447.28,204.10 453.62,189.00 459.96,173.80 466.30,169.40 472.64,182.70 478.98,207.60" fill="none" stroke="#006600" stroke-width="3.6" stroke-linejoin="round" stroke-linecap="butt"/>
<text x="498.8" y="147.0" text-anchor="end" style="font-size:9.6px" fill="#000"><tspan style="font-style:italic">r</tspan> = 0.83; <tspan style="font-style:italic">p</tspan> = 6.48E<tspan dy="-3.6" style="font-size:6px">-8</tspan></text>
<text x="328.2" y="256.0" text-anchor="middle" style="font-size:10.5px" fill="#262626">SW</text>
<text x="374.2" y="256.0" text-anchor="middle" style="font-size:10.5px" fill="#262626">NW</text>
<text x="419.5" y="256.0" text-anchor="middle" style="font-size:10.5px" fill="#262626">NE</text>
<text x="465.3" y="256.0" text-anchor="middle" style="font-size:10.5px" fill="#262626">SE</text>
<text transform="translate(256.8 197.5) rotate(-90)" text-anchor="middle" style="font-size:11px" fill="#262626">Average firing rate</text>
<text transform="translate(267.1 197.5) rotate(-90)" text-anchor="middle" style="font-size:11px" fill="#262626">(norm. spike/s)</text>
<text x="234.2" y="293.4" style="font-weight:bold;font-size:22px" fill="#000">d</text>
<line x1="305.5" y1="295.6" x2="305.5" y2="385.3" stroke="#e0782a" stroke-width="1.1"/>
<line x1="351.1" y1="295.6" x2="351.1" y2="385.3" stroke="#e0782a" stroke-width="1.1"/>
<line x1="396.8" y1="295.6" x2="396.8" y2="385.3" stroke="#e0782a" stroke-width="1.1"/>
<line x1="442.5" y1="295.6" x2="442.5" y2="385.3" stroke="#e0782a" stroke-width="1.1"/>
<line x1="488.3" y1="295.6" x2="488.3" y2="385.3" stroke="#e0782a" stroke-width="1.1"/>
<line x1="328.3" y1="295.6" x2="328.3" y2="385.3" stroke="#28288a" stroke-width="1.1"/>
<line x1="374.0" y1="295.6" x2="374.0" y2="385.3" stroke="#28288a" stroke-width="1.1"/>
<line x1="419.7" y1="295.6" x2="419.7" y2="385.3" stroke="#28288a" stroke-width="1.1"/>
<line x1="465.5" y1="295.6" x2="465.5" y2="385.3" stroke="#28288a" stroke-width="1.1"/>
<line x1="295.4" y1="342.4" x2="498.8" y2="342.4" stroke="#b0b0b0" stroke-width="1"/>
<rect x="305.40" y="327.60" width="4.8" height="14.80" fill="#d4d4d4" stroke="#858585" stroke-width="0.9"/>
<rect x="311.74" y="339.20" width="4.8" height="3.20" fill="#d4d4d4" stroke="#858585" stroke-width="0.9"/>
<rect x="318.08" y="342.40" width="4.8" height="8.00" fill="#d4d4d4" stroke="#858585" stroke-width="0.9"/>
<rect x="324.42" y="342.40" width="4.8" height="27.40" fill="#d4d4d4" stroke="#858585" stroke-width="0.9"/>
<rect x="330.76" y="342.40" width="4.8" height="21.20" fill="#d4d4d4" stroke="#858585" stroke-width="0.9"/>
<rect x="337.10" y="341.00" width="4.8" height="1.40" fill="#d4d4d4" stroke="#858585" stroke-width="0.9"/>
<rect x="343.44" y="318.70" width="4.8" height="23.70" fill="#d4d4d4" stroke="#858585" stroke-width="0.9"/>
<rect x="349.78" y="318.30" width="4.8" height="24.10" fill="#d4d4d4" stroke="#858585" stroke-width="0.9"/>
<rect x="356.12" y="328.50" width="4.8" height="13.90" fill="#d4d4d4" stroke="#858585" stroke-width="0.9"/>
<rect x="362.46" y="337.40" width="4.8" height="5.00" fill="#d4d4d4" stroke="#858585" stroke-width="0.9"/>
<rect x="368.80" y="342.40" width="4.8" height="27.90" fill="#d4d4d4" stroke="#858585" stroke-width="0.9"/>
<rect x="375.14" y="342.40" width="4.8" height="19.00" fill="#d4d4d4" stroke="#858585" stroke-width="0.9"/>
<rect x="381.48" y="342.40" width="4.8" height="1.20" fill="#d4d4d4" stroke="#858585" stroke-width="0.9"/>
<rect x="387.82" y="313.40" width="4.8" height="29.00" fill="#d4d4d4" stroke="#858585" stroke-width="0.9"/>
<rect x="394.16" y="316.60" width="4.8" height="25.80" fill="#d4d4d4" stroke="#858585" stroke-width="0.9"/>
<rect x="400.50" y="329.40" width="4.8" height="13.00" fill="#d4d4d4" stroke="#858585" stroke-width="0.9"/>
<rect x="406.84" y="339.20" width="4.8" height="3.20" fill="#d4d4d4" stroke="#858585" stroke-width="0.9"/>
<rect x="413.18" y="342.40" width="4.8" height="12.80" fill="#d4d4d4" stroke="#858585" stroke-width="0.9"/>
<rect x="419.52" y="342.40" width="4.8" height="15.10" fill="#d4d4d4" stroke="#858585" stroke-width="0.9"/>
<rect x="425.86" y="342.40" width="4.8" height="14.00" fill="#d4d4d4" stroke="#858585" stroke-width="0.9"/>
<rect x="432.20" y="319.60" width="4.8" height="22.80" fill="#d4d4d4" stroke="#858585" stroke-width="0.9"/>
<rect x="438.54" y="318.30" width="4.8" height="24.10" fill="#d4d4d4" stroke="#858585" stroke-width="0.9"/>
<rect x="444.88" y="332.00" width="4.8" height="10.40" fill="#d4d4d4" stroke="#858585" stroke-width="0.9"/>
<rect x="451.22" y="342.40" width="4.8" height="29.20" fill="#d4d4d4" stroke="#858585" stroke-width="0.9"/>
<rect x="457.56" y="342.40" width="4.8" height="38.10" fill="#d4d4d4" stroke="#858585" stroke-width="0.9"/>
<rect x="463.90" y="342.40" width="4.8" height="34.20" fill="#d4d4d4" stroke="#858585" stroke-width="0.9"/>
<rect x="470.24" y="342.40" width="4.8" height="12.80" fill="#d4d4d4" stroke="#858585" stroke-width="0.9"/>
<rect x="476.58" y="334.70" width="4.8" height="7.70" fill="#d4d4d4" stroke="#858585" stroke-width="0.9"/>
<rect x="295.4" y="295.6" width="203.4" height="89.7" fill="none" stroke="#9a9a9a" stroke-width="1"/>
<line x1="295.4" y1="302.6" x2="297.9" y2="302.6" stroke="#b0b0b0" stroke-width="1"/>
<line x1="498.8" y1="302.6" x2="496.3" y2="302.6" stroke="#b0b0b0" stroke-width="1"/>
<text x="290.6" y="307.4" text-anchor="end" style="font-size:10px" fill="#262626">0.5</text>
<line x1="295.4" y1="342.4" x2="297.9" y2="342.4" stroke="#b0b0b0" stroke-width="1"/>
<line x1="498.8" y1="342.4" x2="496.3" y2="342.4" stroke="#b0b0b0" stroke-width="1"/>
<text x="290.6" y="347.2" text-anchor="end" style="font-size:10px" fill="#262626">0</text>
<line x1="295.4" y1="382.1" x2="297.9" y2="382.1" stroke="#b0b0b0" stroke-width="1"/>
<line x1="498.8" y1="382.1" x2="496.3" y2="382.1" stroke="#b0b0b0" stroke-width="1"/>
<text x="290.6" y="386.9" text-anchor="end" style="font-size:10px" fill="#262626">-0.5</text>
<polyline points="307.80,328.50 314.14,342.00 320.48,355.20 326.82,362.30 333.16,357.00 339.50,342.00 345.84,327.50 352.18,320.50 358.52,329.40 364.86,344.50 371.20,357.50 377.54,355.20 383.88,343.60 390.22,324.90 396.56,320.00 402.90,327.60 409.24,338.30 415.58,351.60 421.92,354.00 428.26,345.40 434.60,330.30 440.94,326.70 447.28,339.20 453.62,358.80 459.96,374.80 466.30,373.90 472.64,357.90 478.98,335.60" fill="none" stroke="#ff0000" stroke-width="3.6" stroke-linejoin="round" stroke-linecap="butt"/>
<text x="498.8" y="291.1" text-anchor="end" style="font-size:9.6px" fill="#000"><tspan style="font-style:italic">r</tspan> = -0.89; <tspan style="font-style:italic">p</tspan> = 1.71E<tspan dy="-3.6" style="font-size:6px">-10</tspan></text>
<text x="328.2" y="399.9" text-anchor="middle" style="font-size:10.5px" fill="#262626">SW</text>
<text x="374.2" y="399.9" text-anchor="middle" style="font-size:10.5px" fill="#262626">NW</text>
<text x="419.5" y="399.9" text-anchor="middle" style="font-size:10.5px" fill="#262626">NE</text>
<text x="465.3" y="399.9" text-anchor="middle" style="font-size:10.5px" fill="#262626">SE</text>
<text transform="translate(256.8 341.2) rotate(-90)" text-anchor="middle" style="font-size:11px" fill="#262626">Average firing rate</text>
<text transform="translate(267.1 341.2) rotate(-90)" text-anchor="middle" style="font-size:11px" fill="#262626">(norm. spike/s)</text>
<text x="234.0" y="425.1" style="font-weight:bold;font-size:22px" fill="#000">e</text>
<line x1="305.5" y1="429.3" x2="305.5" y2="518.9" stroke="#e0782a" stroke-width="1.1"/>
<line x1="351.1" y1="429.3" x2="351.1" y2="518.9" stroke="#e0782a" stroke-width="1.1"/>
<line x1="396.8" y1="429.3" x2="396.8" y2="518.9" stroke="#e0782a" stroke-width="1.1"/>
<line x1="442.5" y1="429.3" x2="442.5" y2="518.9" stroke="#e0782a" stroke-width="1.1"/>
<line x1="488.3" y1="429.3" x2="488.3" y2="518.9" stroke="#e0782a" stroke-width="1.1"/>
<line x1="328.3" y1="429.3" x2="328.3" y2="518.9" stroke="#28288a" stroke-width="1.1"/>
<line x1="374.0" y1="429.3" x2="374.0" y2="518.9" stroke="#28288a" stroke-width="1.1"/>
<line x1="419.7" y1="429.3" x2="419.7" y2="518.9" stroke="#28288a" stroke-width="1.1"/>
<line x1="465.5" y1="429.3" x2="465.5" y2="518.9" stroke="#28288a" stroke-width="1.1"/>
<line x1="295.4" y1="476.5" x2="498.8" y2="476.5" stroke="#b0b0b0" stroke-width="1"/>
<rect x="305.40" y="431.20" width="4.8" height="45.30" fill="#d4d4d4" stroke="#858585" stroke-width="0.9"/>
<rect x="311.74" y="470.40" width="4.8" height="6.10" fill="#d4d4d4" stroke="#858585" stroke-width="0.9"/>
<rect x="318.08" y="476.50" width="4.8" height="12.00" fill="#d4d4d4" stroke="#858585" stroke-width="0.9"/>
<rect x="324.42" y="476.50" width="4.8" height="7.60" fill="#d4d4d4" stroke="#858585" stroke-width="0.9"/>
<rect x="330.76" y="476.50" width="4.8" height="21.80" fill="#d4d4d4" stroke="#858585" stroke-width="0.9"/>
<rect x="337.10" y="476.50" width="4.8" height="1.20" fill="#d4d4d4" stroke="#858585" stroke-width="0.9"/>
<rect x="343.44" y="476.50" width="4.8" height="1.90" fill="#d4d4d4" stroke="#858585" stroke-width="0.9"/>
<rect x="349.78" y="476.50" width="4.8" height="7.80" fill="#d4d4d4" stroke="#858585" stroke-width="0.9"/>
<rect x="356.12" y="475.40" width="4.8" height="1.10" fill="#d4d4d4" stroke="#858585" stroke-width="0.9"/>
<rect x="362.46" y="476.50" width="4.8" height="10.80" fill="#d4d4d4" stroke="#858585" stroke-width="0.9"/>
<rect x="368.80" y="476.50" width="4.8" height="15.80" fill="#d4d4d4" stroke="#858585" stroke-width="0.9"/>
<rect x="375.14" y="476.50" width="4.8" height="15.80" fill="#d4d4d4" stroke="#858585" stroke-width="0.9"/>
<rect x="381.48" y="466.30" width="4.8" height="10.20" fill="#d4d4d4" stroke="#858585" stroke-width="0.9"/>
<rect x="387.82" y="446.40" width="4.8" height="30.10" fill="#d4d4d4" stroke="#858585" stroke-width="0.9"/>
<rect x="394.16" y="444.40" width="4.8" height="32.10" fill="#d4d4d4" stroke="#858585" stroke-width="0.9"/>
<rect x="400.50" y="450.30" width="4.8" height="26.20" fill="#d4d4d4" stroke="#858585" stroke-width="0.9"/>
<rect x="406.84" y="475.70" width="4.8" height="0.80" fill="#d4d4d4" stroke="#858585" stroke-width="0.9"/>
<rect x="413.18" y="476.50" width="4.8" height="12.90" fill="#d4d4d4" stroke="#858585" stroke-width="0.9"/>
<rect x="419.52" y="476.50" width="4.8" height="22.90" fill="#d4d4d4" stroke="#858585" stroke-width="0.9"/>
<rect x="425.86" y="476.50" width="4.8" height="6.90" fill="#d4d4d4" stroke="#858585" stroke-width="0.9"/>
<rect x="432.20" y="466.50" width="4.8" height="10.00" fill="#d4d4d4" stroke="#858585" stroke-width="0.9"/>
<rect x="438.54" y="464.00" width="4.8" height="12.50" fill="#d4d4d4" stroke="#858585" stroke-width="0.9"/>
<rect x="444.88" y="468.30" width="4.8" height="8.20" fill="#d4d4d4" stroke="#858585" stroke-width="0.9"/>
<rect x="451.22" y="476.50" width="4.8" height="12.10" fill="#d4d4d4" stroke="#858585" stroke-width="0.9"/>
<rect x="457.56" y="476.50" width="4.8" height="21.10" fill="#d4d4d4" stroke="#858585" stroke-width="0.9"/>
<rect x="463.90" y="476.50" width="4.8" height="7.80" fill="#d4d4d4" stroke="#858585" stroke-width="0.9"/>
<rect x="470.24" y="476.50" width="4.8" height="14.00" fill="#d4d4d4" stroke="#858585" stroke-width="0.9"/>
<rect x="476.58" y="470.40" width="4.8" height="6.10" fill="#d4d4d4" stroke="#858585" stroke-width="0.9"/>
<rect x="295.4" y="429.3" width="203.4" height="89.6" fill="none" stroke="#9a9a9a" stroke-width="1"/>
<line x1="295.4" y1="436.8" x2="297.9" y2="436.8" stroke="#b0b0b0" stroke-width="1"/>
<line x1="498.8" y1="436.8" x2="496.3" y2="436.8" stroke="#b0b0b0" stroke-width="1"/>
<text x="290.6" y="441.6" text-anchor="end" style="font-size:10px" fill="#262626">0.5</text>
<line x1="295.4" y1="476.5" x2="297.9" y2="476.5" stroke="#b0b0b0" stroke-width="1"/>
<line x1="498.8" y1="476.5" x2="496.3" y2="476.5" stroke="#b0b0b0" stroke-width="1"/>
<text x="290.6" y="481.3" text-anchor="end" style="font-size:10px" fill="#262626">0</text>
<line x1="295.4" y1="516.2" x2="297.9" y2="516.2" stroke="#b0b0b0" stroke-width="1"/>
<line x1="498.8" y1="516.2" x2="496.3" y2="516.2" stroke="#b0b0b0" stroke-width="1"/>
<text x="290.6" y="521.0" text-anchor="end" style="font-size:10px" fill="#262626">-0.5</text>
<polyline points="307.80,432.10 314.14,457.40 320.48,482.00 326.82,491.80 333.16,490.90 339.50,485.50 345.84,480.50 352.18,479.30 358.52,482.30 364.86,486.40 371.20,489.40 377.54,482.90 383.88,469.50 390.22,452.60 396.56,447.20 402.90,456.20 409.24,470.40 415.58,486.40 421.92,490.50 428.26,482.90 434.60,472.20 440.94,467.70 447.28,471.60 453.62,484.60 459.96,491.80 466.30,491.80 472.64,482.90 478.98,470.90" fill="none" stroke="#006600" stroke-width="3.6" stroke-linejoin="round" stroke-linecap="butt"/>
<text x="498.8" y="424.2" text-anchor="end" style="font-size:9.6px" fill="#000"><tspan style="font-style:italic">r</tspan> = -0.77; <tspan style="font-style:italic">p</tspan> = 1.80E<tspan dy="-3.6" style="font-size:6px">-6</tspan></text>
<text x="328.2" y="533.5" text-anchor="middle" style="font-size:10.5px" fill="#262626">SW</text>
<text x="374.2" y="533.5" text-anchor="middle" style="font-size:10.5px" fill="#262626">NW</text>
<text x="419.5" y="533.5" text-anchor="middle" style="font-size:10.5px" fill="#262626">NE</text>
<text x="465.3" y="533.5" text-anchor="middle" style="font-size:10.5px" fill="#262626">SE</text>
<text transform="translate(256.8 475.3) rotate(-90)" text-anchor="middle" style="font-size:11px" fill="#262626">Average firing rate</text>
<text transform="translate(267.1 475.3) rotate(-90)" text-anchor="middle" style="font-size:11px" fill="#262626">(norm. spike/s)</text>
<text x="538.0" y="16.1" style="font-weight:bold;font-size:22px" fill="#000">f</text>
<rect x="551.3" y="5.2" width="122.7" height="118.6" fill="#999999"/>
<path d="M674 5.7 H551.8 V123.3 H674" fill="none" stroke="#808080" stroke-width="1"/>
<defs><linearGradient id="g1" gradientUnits="userSpaceOnUse" x1="608.3" y1="9.8" x2="555.2" y2="48.5"><stop offset="0" stop-color="#3e2fc4"/><stop offset="0.1" stop-color="#3a6ef2"/><stop offset="0.25" stop-color="#a6c640"/><stop offset="0.35" stop-color="#1cb6c6"/><stop offset="0.5" stop-color="#2a94e6"/><stop offset="0.65" stop-color="#3a6ef2"/><stop offset="0.8" stop-color="#3f48e0"/><stop offset="0.9" stop-color="#1cb6c6"/><stop offset="1" stop-color="#a6c640"/></linearGradient></defs>
<line x1="608.3" y1="9.8" x2="555.2" y2="48.5" stroke="url(#g1)" stroke-width="3.6"/>
<defs><linearGradient id="g2" gradientUnits="userSpaceOnUse" x1="615.5" y1="9.8" x2="669.2" y2="48.5"><stop offset="0" stop-color="#3e2fc4"/><stop offset="0.09" stop-color="#3e2fc4"/><stop offset="0.21" stop-color="#3a6ef2"/><stop offset="0.34" stop-color="#3a6ef2"/><stop offset="0.46" stop-color="#2a94e6"/><stop offset="0.56" stop-color="#1cb6c6"/><stop offset="0.64" stop-color="#3a6ef2"/><stop offset="0.78" stop-color="#2a94e6"/><stop offset="0.88" stop-color="#1cb6c6"/><stop offset="1" stop-color="#45c0a0"/></linearGradient></defs>
<line x1="615.5" y1="9.8" x2="669.2" y2="48.5" stroke="url(#g2)" stroke-width="3.6"/>
<defs><linearGradient id="g3" gradientUnits="userSpaceOnUse" x1="555.9" y1="52.4" x2="609.5" y2="69.6"><stop offset="0" stop-color="#1cb6c6"/><stop offset="0.2" stop-color="#1cb6c6"/><stop offset="0.35" stop-color="#2a94e6"/><stop offset="0.55" stop-color="#3a6ef2"/><stop offset="0.7" stop-color="#1cb6c6"/><stop offset="0.85" stop-color="#a6c640"/><stop offset="1" stop-color="#eab52e"/></linearGradient></defs>
<line x1="555.9" y1="52.4" x2="609.5" y2="69.6" stroke="url(#g3)" stroke-width="3.6"/>
<defs><linearGradient id="g4" gradientUnits="userSpaceOnUse" x1="668.6" y1="52.4" x2="615.4" y2="69.6"><stop offset="0" stop-color="#45c0a0"/><stop offset="0.12" stop-color="#1cb6c6"/><stop offset="0.3" stop-color="#2a94e6"/><stop offset="0.37" stop-color="#1cb6c6"/><stop offset="0.48" stop-color="#2a94e6"/><stop offset="0.61" stop-color="#a6c640"/><stop offset="0.73" stop-color="#f6e21e"/><stop offset="0.86" stop-color="#f6e21e"/><stop offset="1" stop-color="#eab52e"/></linearGradient></defs>
<line x1="668.6" y1="52.4" x2="615.4" y2="69.6" stroke="url(#g4)" stroke-width="3.6"/>
<defs><linearGradient id="g5" gradientUnits="userSpaceOnUse" x1="612.3" y1="11.1" x2="612.3" y2="66.8"><stop offset="0" stop-color="#3a6ef2"/><stop offset="0.15" stop-color="#2a94e6"/><stop offset="0.3" stop-color="#1cb6c6"/><stop offset="0.45" stop-color="#3a6ef2"/><stop offset="0.6" stop-color="#3a6ef2"/><stop offset="0.7" stop-color="#2a94e6"/><stop offset="0.85" stop-color="#1cb6c6"/><stop offset="1" stop-color="#45c0a0"/></linearGradient></defs>
<line x1="612.3" y1="11.1" x2="612.3" y2="66.8" stroke="url(#g5)" stroke-width="3.6"/>
<defs><linearGradient id="g6" gradientUnits="userSpaceOnUse" x1="609.0" y1="9.8" x2="576.7" y2="117.0"><stop offset="0" stop-color="#3e2fc4"/><stop offset="0.1" stop-color="#3e2fc4"/><stop offset="0.15" stop-color="#1cb6c6"/><stop offset="0.21" stop-color="#2a94e6"/><stop offset="0.28" stop-color="#3a6ef2"/><stop offset="0.4" stop-color="#3e2fc4"/><stop offset="0.48" stop-color="#3a6ef2"/><stop offset="0.56" stop-color="#2a94e6"/><stop offset="0.67" stop-color="#3a6ef2"/><stop offset="0.78" stop-color="#2a94e6"/><stop offset="0.87" stop-color="#1cb6c6"/><stop offset="0.93" stop-color="#a6c640"/><stop offset="1" stop-color="#eab52e"/></linearGradient></defs>
<line x1="609.0" y1="9.8" x2="576.7" y2="117.0" stroke="url(#g6)" stroke-width="3.6"/>
<defs><linearGradient id="g7" gradientUnits="userSpaceOnUse" x1="615.5" y1="10.5" x2="648.2" y2="117.0"><stop offset="0" stop-color="#3e2fc4"/><stop offset="0.07" stop-color="#3e2fc4"/><stop offset="0.16" stop-color="#3f48e0"/><stop offset="0.23" stop-color="#1cb6c6"/><stop offset="0.29" stop-color="#1cb6c6"/><stop offset="0.35" stop-color="#3a6ef2"/><stop offset="0.42" stop-color="#3e2fc4"/><stop offset="0.48" stop-color="#3e2fc4"/><stop offset="0.54" stop-color="#3a6ef2"/><stop offset="0.59" stop-color="#1cb6c6"/><stop offset="0.69" stop-color="#2a94e6"/><stop offset="0.83" stop-color="#3a6ef2"/><stop offset="0.92" stop-color="#3a6ef2"/><stop offset="1" stop-color="#1cb6c6"/></linearGradient></defs>
<line x1="615.5" y1="10.5" x2="648.2" y2="117.0" stroke="url(#g7)" stroke-width="3.6"/>
<defs><linearGradient id="g8" gradientUnits="userSpaceOnUse" x1="611.0" y1="72.5" x2="577.4" y2="117.8"><stop offset="0" stop-color="#a6c640"/><stop offset="0.15" stop-color="#a6c640"/><stop offset="0.3" stop-color="#eab52e"/><stop offset="0.45" stop-color="#1cb6c6"/><stop offset="0.6" stop-color="#45c0a0"/><stop offset="0.75" stop-color="#1cb6c6"/><stop offset="0.9" stop-color="#1cb6c6"/><stop offset="1" stop-color="#eab52e"/></linearGradient></defs>
<line x1="611.0" y1="72.5" x2="577.4" y2="117.8" stroke="url(#g8)" stroke-width="3.6"/>
<defs><linearGradient id="g9" gradientUnits="userSpaceOnUse" x1="613.9" y1="73.2" x2="647.5" y2="117.8"><stop offset="0" stop-color="#1cb6c6"/><stop offset="0.2" stop-color="#a6c640"/><stop offset="0.3" stop-color="#eab52e"/><stop offset="0.45" stop-color="#3a6ef2"/><stop offset="0.65" stop-color="#1cb6c6"/><stop offset="0.8" stop-color="#1cb6c6"/><stop offset="0.9" stop-color="#eab52e"/><stop offset="1" stop-color="#eab52e"/></linearGradient></defs>
<line x1="613.9" y1="73.2" x2="647.5" y2="117.8" stroke="url(#g9)" stroke-width="3.6"/>
<text x="669.3" y="17.0" text-anchor="end" style="font-size:11px" fill="#000"><tspan style="font-style:italic">N</tspan>=58</text>
<text x="533.5" y="152.2" style="font-weight:bold;font-size:22px" fill="#000">g</text>
<rect x="551.3" y="140.3" width="122.7" height="118.6" fill="#999999"/>
<path d="M674 140.8 H551.8 V258.4 H674" fill="none" stroke="#808080" stroke-width="1"/>
<defs><linearGradient id="g10" gradientUnits="userSpaceOnUse" x1="608.3" y1="144.9" x2="555.2" y2="183.6"><stop offset="0" stop-color="#3f48e0"/><stop offset="0.12" stop-color="#3e2fc4"/><stop offset="0.25" stop-color="#1cb6c6"/><stop offset="0.35" stop-color="#45c0a0"/><stop offset="0.45" stop-color="#1cb6c6"/><stop offset="0.55" stop-color="#a6c640"/><stop offset="0.65" stop-color="#1cb6c6"/><stop offset="0.75" stop-color="#3e2fc4"/><stop offset="0.85" stop-color="#3a6ef2"/><stop offset="0.93" stop-color="#1cb6c6"/><stop offset="1" stop-color="#a6c640"/></linearGradient></defs>
<line x1="608.3" y1="144.9" x2="555.2" y2="183.6" stroke="url(#g10)" stroke-width="3.6"/>
<defs><linearGradient id="g11" gradientUnits="userSpaceOnUse" x1="615.5" y1="144.9" x2="669.2" y2="183.6"><stop offset="0" stop-color="#3e2fc4"/><stop offset="0.12" stop-color="#3e2fc4"/><stop offset="0.25" stop-color="#3a6ef2"/><stop offset="0.45" stop-color="#2a94e6"/><stop offset="0.6" stop-color="#3a6ef2"/><stop offset="0.75" stop-color="#2a94e6"/><stop offset="0.88" stop-color="#a6c640"/><stop offset="1" stop-color="#1cb6c6"/></linearGradient></defs>
<line x1="615.5" y1="144.9" x2="669.2" y2="183.6" stroke="url(#g11)" stroke-width="3.6"/>
<defs><linearGradient id="g12" gradientUnits="userSpaceOnUse" x1="555.9" y1="187.5" x2="609.5" y2="204.7"><stop offset="0" stop-color="#1cb6c6"/><stop offset="0.12" stop-color="#45c0a0"/><stop offset="0.22" stop-color="#eab52e"/><stop offset="0.32" stop-color="#a6c640"/><stop offset="0.42" stop-color="#eab52e"/><stop offset="0.52" stop-color="#1cb6c6"/><stop offset="0.65" stop-color="#1cb6c6"/><stop offset="0.8" stop-color="#a6c640"/><stop offset="1" stop-color="#eab52e"/></linearGradient></defs>
<line x1="555.9" y1="187.5" x2="609.5" y2="204.7" stroke="url(#g12)" stroke-width="3.6"/>
<defs><linearGradient id="g13" gradientUnits="userSpaceOnUse" x1="668.6" y1="187.5" x2="615.4" y2="204.7"><stop offset="0" stop-color="#3a6ef2"/><stop offset="0.12" stop-color="#1cb6c6"/><stop offset="0.3" stop-color="#a6c640"/><stop offset="0.45" stop-color="#1cb6c6"/><stop offset="0.65" stop-color="#1cb6c6"/><stop offset="0.8" stop-color="#eab52e"/><stop offset="1" stop-color="#f6e21e"/></linearGradient></defs>
<line x1="668.6" y1="187.5" x2="615.4" y2="204.7" stroke="url(#g13)" stroke-width="3.6"/>
<defs><linearGradient id="g14" gradientUnits="userSpaceOnUse" x1="612.3" y1="146.2" x2="612.3" y2="201.9"><stop offset="0" stop-color="#1cb6c6"/><stop offset="0.25" stop-color="#1cb6c6"/><stop offset="0.4" stop-color="#45c0a0"/><stop offset="0.6" stop-color="#3a6ef2"/><stop offset="0.7" stop-color="#1cb6c6"/><stop offset="0.8" stop-color="#3e2fc4"/><stop offset="0.9" stop-color="#2a94e6"/><stop offset="1" stop-color="#3a6ef2"/></linearGradient></defs>
<line x1="612.3" y1="146.2" x2="612.3" y2="201.9" stroke="url(#g14)" stroke-width="3.6"/>
<defs><linearGradient id="g15" gradientUnits="userSpaceOnUse" x1="609.0" y1="144.9" x2="576.7" y2="252.1"><stop offset="0" stop-color="#3e2fc4"/><stop offset="0.1" stop-color="#3e2fc4"/><stop offset="0.16" stop-color="#1cb6c6"/><stop offset="0.21" stop-color="#1cb6c6"/><stop offset="0.27" stop-color="#2a94e6"/><stop offset="0.32" stop-color="#3a6ef2"/><stop offset="0.38" stop-color="#1cb6c6"/><stop offset="0.46" stop-color="#3e2fc4"/><stop offset="0.56" stop-color="#2a94e6"/><stop offset="0.65" stop-color="#3a6ef2"/><stop offset="0.73" stop-color="#3e2fc4"/><stop offset="0.84" stop-color="#eab52e"/><stop offset="0.92" stop-color="#1cb6c6"/><stop offset="1" stop-color="#3a6ef2"/></linearGradient></defs>
<line x1="609.0" y1="144.9" x2="576.7" y2="252.1" stroke="url(#g15)" stroke-width="3.6"/>
<defs><linearGradient id="g16" gradientUnits="userSpaceOnUse" x1="615.5" y1="145.6" x2="648.2" y2="252.1"><stop offset="0" stop-color="#3e2fc4"/><stop offset="0.09" stop-color="#3e2fc4"/><stop offset="0.21" stop-color="#3a6ef2"/><stop offset="0.34" stop-color="#3a6ef2"/><stop offset="0.46" stop-color="#3e2fc4"/><stop offset="0.55" stop-color="#45c0a0"/><stop offset="0.69" stop-color="#1cb6c6"/><stop offset="0.83" stop-color="#3e2fc4"/><stop offset="1" stop-color="#3a6ef2"/></linearGradient></defs>
<line x1="615.5" y1="145.6" x2="648.2" y2="252.1" stroke="url(#g16)" stroke-width="3.6"/>
<defs><linearGradient id="g17" gradientUnits="userSpaceOnUse" x1="611.0" y1="207.6" x2="577.4" y2="252.9"><stop offset="0" stop-color="#1cb6c6"/><stop offset="0.4" stop-color="#1cb6c6"/><stop offset="0.75" stop-color="#45c0a0"/><stop offset="1" stop-color="#2a94e6"/></linearGradient></defs>
<line x1="611.0" y1="207.6" x2="577.4" y2="252.9" stroke="url(#g17)" stroke-width="3.6"/>
<defs><linearGradient id="g18" gradientUnits="userSpaceOnUse" x1="613.9" y1="208.3" x2="647.5" y2="252.9"><stop offset="0" stop-color="#1cb6c6"/><stop offset="0.25" stop-color="#3a6ef2"/><stop offset="0.45" stop-color="#a6c640"/><stop offset="0.6" stop-color="#1cb6c6"/><stop offset="0.75" stop-color="#3a6ef2"/><stop offset="1" stop-color="#1cb6c6"/></linearGradient></defs>
<line x1="613.9" y1="208.3" x2="647.5" y2="252.9" stroke="url(#g18)" stroke-width="3.6"/>
<text x="669.3" y="152.1" text-anchor="end" style="font-size:11px" fill="#000"><tspan style="font-style:italic">N</tspan>=74</text>
<text x="533.9" y="294.2" style="font-weight:bold;font-size:22px" fill="#000">h</text>
<rect x="551.3" y="282.4" width="122.7" height="118.6" fill="#999999"/>
<path d="M674 282.9 H551.8 V400.5 H674" fill="none" stroke="#808080" stroke-width="1"/>
<defs><linearGradient id="g19" gradientUnits="userSpaceOnUse" x1="608.3" y1="287.0" x2="555.2" y2="325.7"><stop offset="0" stop-color="#45c0a0"/><stop offset="0.12" stop-color="#1cb6c6"/><stop offset="0.25" stop-color="#2a94e6"/><stop offset="0.35" stop-color="#3f48e0"/><stop offset="0.45" stop-color="#2a94e6"/><stop offset="0.6" stop-color="#1cb6c6"/><stop offset="0.8" stop-color="#2a94e6"/><stop offset="1" stop-color="#3a6ef2"/></linearGradient></defs>
<line x1="608.3" y1="287.0" x2="555.2" y2="325.7" stroke="url(#g19)" stroke-width="3.6"/>
<defs><linearGradient id="g20" gradientUnits="userSpaceOnUse" x1="615.5" y1="287.0" x2="669.2" y2="325.7"><stop offset="0" stop-color="#1cb6c6"/><stop offset="0.2" stop-color="#1cb6c6"/><stop offset="0.35" stop-color="#3a6ef2"/><stop offset="0.55" stop-color="#2a94e6"/><stop offset="0.72" stop-color="#3a6ef2"/><stop offset="0.88" stop-color="#2a94e6"/><stop offset="1" stop-color="#1cb6c6"/></linearGradient></defs>
<line x1="615.5" y1="287.0" x2="669.2" y2="325.7" stroke="url(#g20)" stroke-width="3.6"/>
<defs><linearGradient id="g21" gradientUnits="userSpaceOnUse" x1="555.9" y1="329.6" x2="609.5" y2="346.8"><stop offset="0" stop-color="#2a94e6"/><stop offset="0.12" stop-color="#3e2fc4"/><stop offset="0.3" stop-color="#3e2fc4"/><stop offset="0.5" stop-color="#3e2fc4"/><stop offset="0.65" stop-color="#3a6ef2"/><stop offset="0.8" stop-color="#3e2fc4"/><stop offset="1" stop-color="#3a6ef2"/></linearGradient></defs>
<line x1="555.9" y1="329.6" x2="609.5" y2="346.8" stroke="url(#g21)" stroke-width="3.6"/>
<defs><linearGradient id="g22" gradientUnits="userSpaceOnUse" x1="668.6" y1="329.6" x2="615.4" y2="346.8"><stop offset="0" stop-color="#a6c640"/><stop offset="0.08" stop-color="#3a6ef2"/><stop offset="0.25" stop-color="#3a6ef2"/><stop offset="0.45" stop-color="#3e2fc4"/><stop offset="0.65" stop-color="#3a6ef2"/><stop offset="0.85" stop-color="#3f48e0"/><stop offset="1" stop-color="#3a6ef2"/></linearGradient></defs>
<line x1="668.6" y1="329.6" x2="615.4" y2="346.8" stroke="url(#g22)" stroke-width="3.6"/>
<defs><linearGradient id="g23" gradientUnits="userSpaceOnUse" x1="612.3" y1="288.3" x2="612.3" y2="344.0"><stop offset="0" stop-color="#eab52e"/><stop offset="0.2" stop-color="#eab52e"/><stop offset="0.4" stop-color="#eab52e"/><stop offset="0.55" stop-color="#f6e21e"/><stop offset="0.65" stop-color="#f6e21e"/><stop offset="0.72" stop-color="#eab52e"/><stop offset="0.78" stop-color="#45c0a0"/><stop offset="0.85" stop-color="#eab52e"/><stop offset="1" stop-color="#eab52e"/></linearGradient></defs>
<line x1="612.3" y1="288.3" x2="612.3" y2="344.0" stroke="url(#g23)" stroke-width="3.6"/>
<defs><linearGradient id="g24" gradientUnits="userSpaceOnUse" x1="609.0" y1="287.0" x2="576.7" y2="394.2"><stop offset="0" stop-color="#3a6ef2"/><stop offset="0.2" stop-color="#3a6ef2"/><stop offset="0.3" stop-color="#1cb6c6"/><stop offset="0.4" stop-color="#3a6ef2"/><stop offset="0.6" stop-color="#3a6ef2"/><stop offset="0.7" stop-color="#3e2fc4"/><stop offset="0.8" stop-color="#2a94e6"/><stop offset="0.88" stop-color="#3e2fc4"/><stop offset="1" stop-color="#3a6ef2"/></linearGradient></defs>
<line x1="609.0" y1="287.0" x2="576.7" y2="394.2" stroke="url(#g24)" stroke-width="3.6"/>
<defs><linearGradient id="g25" gradientUnits="userSpaceOnUse" x1="615.5" y1="287.7" x2="648.2" y2="394.2"><stop offset="0" stop-color="#1cb6c6"/><stop offset="0.2" stop-color="#1cb6c6"/><stop offset="0.4" stop-color="#2a94e6"/><stop offset="0.6" stop-color="#3a6ef2"/><stop offset="0.85" stop-color="#3a6ef2"/><stop offset="1" stop-color="#1cb6c6"/></linearGradient></defs>
<line x1="615.5" y1="287.7" x2="648.2" y2="394.2" stroke="url(#g25)" stroke-width="3.6"/>
<defs><linearGradient id="g26" gradientUnits="userSpaceOnUse" x1="611.0" y1="349.7" x2="577.4" y2="395.0"><stop offset="0" stop-color="#3a6ef2"/><stop offset="0.3" stop-color="#3a6ef2"/><stop offset="0.55" stop-color="#3e2fc4"/><stop offset="0.75" stop-color="#2a94e6"/><stop offset="1" stop-color="#1cb6c6"/></linearGradient></defs>
<line x1="611.0" y1="349.7" x2="577.4" y2="395.0" stroke="url(#g26)" stroke-width="3.6"/>
<defs><linearGradient id="g27" gradientUnits="userSpaceOnUse" x1="613.9" y1="350.4" x2="647.5" y2="395.0"><stop offset="0" stop-color="#2a94e6"/><stop offset="0.3" stop-color="#2a94e6"/><stop offset="0.5" stop-color="#3a6ef2"/><stop offset="0.65" stop-color="#2a94e6"/><stop offset="0.8" stop-color="#3a6ef2"/><stop offset="1" stop-color="#1cb6c6"/></linearGradient></defs>
<line x1="613.9" y1="350.4" x2="647.5" y2="395.0" stroke="url(#g27)" stroke-width="3.6"/>
<text x="669.3" y="294.2" text-anchor="end" style="font-size:11px" fill="#000"><tspan style="font-style:italic">N</tspan>=53</text>
<text x="541.1" y="424.9" style="font-weight:bold;font-size:22px" fill="#000">i</text>
<rect x="551.3" y="413.2" width="122.7" height="118.6" fill="#999999"/>
<path d="M674 413.7 H551.8 V531.3 H674" fill="none" stroke="#808080" stroke-width="1"/>
<defs><linearGradient id="g28" gradientUnits="userSpaceOnUse" x1="608.3" y1="417.8" x2="555.2" y2="456.5"><stop offset="0" stop-color="#a6c640"/><stop offset="0.12" stop-color="#1cb6c6"/><stop offset="0.25" stop-color="#a6c640"/><stop offset="0.38" stop-color="#1cb6c6"/><stop offset="0.5" stop-color="#1cb6c6"/><stop offset="0.62" stop-color="#45c0a0"/><stop offset="0.75" stop-color="#1cb6c6"/><stop offset="0.88" stop-color="#2a94e6"/><stop offset="1" stop-color="#3a6ef2"/></linearGradient></defs>
<line x1="608.3" y1="417.8" x2="555.2" y2="456.5" stroke="url(#g28)" stroke-width="3.6"/>
<defs><linearGradient id="g29" gradientUnits="userSpaceOnUse" x1="615.5" y1="417.8" x2="669.2" y2="456.5"><stop offset="0" stop-color="#1cb6c6"/><stop offset="0.15" stop-color="#a6c640"/><stop offset="0.3" stop-color="#2a94e6"/><stop offset="0.45" stop-color="#1cb6c6"/><stop offset="0.6" stop-color="#a6c640"/><stop offset="0.8" stop-color="#1cb6c6"/><stop offset="0.9" stop-color="#1cb6c6"/><stop offset="1" stop-color="#2a94e6"/></linearGradient></defs>
<line x1="615.5" y1="417.8" x2="669.2" y2="456.5" stroke="url(#g29)" stroke-width="3.6"/>
<defs><linearGradient id="g30" gradientUnits="userSpaceOnUse" x1="555.9" y1="460.4" x2="609.5" y2="477.6"><stop offset="0" stop-color="#3a6ef2"/><stop offset="0.1" stop-color="#3e2fc4"/><stop offset="0.2" stop-color="#3a6ef2"/><stop offset="0.45" stop-color="#3a6ef2"/><stop offset="0.65" stop-color="#1cb6c6"/><stop offset="0.85" stop-color="#3a6ef2"/><stop offset="1" stop-color="#3a6ef2"/></linearGradient></defs>
<line x1="555.9" y1="460.4" x2="609.5" y2="477.6" stroke="url(#g30)" stroke-width="3.6"/>
<defs><linearGradient id="g31" gradientUnits="userSpaceOnUse" x1="668.6" y1="460.4" x2="615.4" y2="477.6"><stop offset="0" stop-color="#3a6ef2"/><stop offset="0.2" stop-color="#3e2fc4"/><stop offset="0.35" stop-color="#3a6ef2"/><stop offset="0.55" stop-color="#3e2fc4"/><stop offset="0.7" stop-color="#3a6ef2"/><stop offset="0.85" stop-color="#3a6ef2"/><stop offset="1" stop-color="#2a94e6"/></linearGradient></defs>
<line x1="668.6" y1="460.4" x2="615.4" y2="477.6" stroke="url(#g31)" stroke-width="3.6"/>
<defs><linearGradient id="g32" gradientUnits="userSpaceOnUse" x1="612.3" y1="419.1" x2="612.3" y2="474.8"><stop offset="0" stop-color="#1cb6c6"/><stop offset="0.35" stop-color="#1cb6c6"/><stop offset="0.55" stop-color="#2a94e6"/><stop offset="0.8" stop-color="#3a6ef2"/><stop offset="1" stop-color="#3a6ef2"/></linearGradient></defs>
<line x1="612.3" y1="419.1" x2="612.3" y2="474.8" stroke="url(#g32)" stroke-width="3.6"/>
<defs><linearGradient id="g33" gradientUnits="userSpaceOnUse" x1="609.0" y1="417.8" x2="576.7" y2="525.0"><stop offset="0" stop-color="#eab52e"/><stop offset="0.1" stop-color="#eab52e"/><stop offset="0.17" stop-color="#a6c640"/><stop offset="0.25" stop-color="#eab52e"/><stop offset="0.32" stop-color="#45c0a0"/><stop offset="0.4" stop-color="#2a94e6"/><stop offset="0.48" stop-color="#1cb6c6"/><stop offset="0.55" stop-color="#a6c640"/><stop offset="0.62" stop-color="#1cb6c6"/><stop offset="0.72" stop-color="#1cb6c6"/><stop offset="0.8" stop-color="#a6c640"/><stop offset="0.88" stop-color="#2a94e6"/><stop offset="1" stop-color="#3a6ef2"/></linearGradient></defs>
<line x1="609.0" y1="417.8" x2="576.7" y2="525.0" stroke="url(#g33)" stroke-width="3.6"/>
<defs><linearGradient id="g34" gradientUnits="userSpaceOnUse" x1="615.5" y1="418.5" x2="648.2" y2="525.0"><stop offset="0" stop-color="#eab52e"/><stop offset="0.1" stop-color="#a6c640"/><stop offset="0.2" stop-color="#1cb6c6"/><stop offset="0.3" stop-color="#2a94e6"/><stop offset="0.4" stop-color="#1cb6c6"/><stop offset="0.5" stop-color="#a6c640"/><stop offset="0.56" stop-color="#f6e21e"/><stop offset="0.62" stop-color="#eab52e"/><stop offset="0.7" stop-color="#2a94e6"/><stop offset="0.8" stop-color="#2a94e6"/><stop offset="0.9" stop-color="#1cb6c6"/><stop offset="1" stop-color="#2a94e6"/></linearGradient></defs>
<line x1="615.5" y1="418.5" x2="648.2" y2="525.0" stroke="url(#g34)" stroke-width="3.6"/>
<defs><linearGradient id="g35" gradientUnits="userSpaceOnUse" x1="611.0" y1="480.5" x2="577.4" y2="525.8"><stop offset="0" stop-color="#3e2fc4"/><stop offset="0.2" stop-color="#3a6ef2"/><stop offset="0.45" stop-color="#3e2fc4"/><stop offset="0.65" stop-color="#2a94e6"/><stop offset="0.9" stop-color="#3e2fc4"/><stop offset="1" stop-color="#3a6ef2"/></linearGradient></defs>
<line x1="611.0" y1="480.5" x2="577.4" y2="525.8" stroke="url(#g35)" stroke-width="3.6"/>
<defs><linearGradient id="g36" gradientUnits="userSpaceOnUse" x1="613.9" y1="481.2" x2="647.5" y2="525.8"><stop offset="0" stop-color="#3e2fc4"/><stop offset="0.3" stop-color="#3e2fc4"/><stop offset="0.45" stop-color="#3a6ef2"/><stop offset="0.65" stop-color="#2a94e6"/><stop offset="0.85" stop-color="#3a6ef2"/><stop offset="1" stop-color="#3e2fc4"/></linearGradient></defs>
<line x1="613.9" y1="481.2" x2="647.5" y2="525.8" stroke="url(#g36)" stroke-width="3.6"/>
<text x="669.3" y="425.0" text-anchor="end" style="font-size:11px" fill="#000"><tspan style="font-style:italic">N</tspan>=63</text>
</svg></body></html>
